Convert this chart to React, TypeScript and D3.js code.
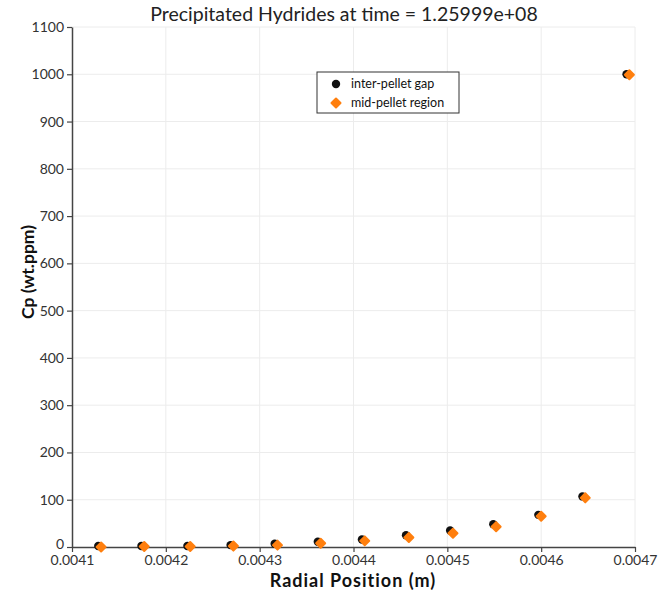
import React, { useEffect, useRef } from "react";
import * as d3 from "d3";

// radial positions (m) of the sampled points
const gapX = [0.004128, 0.004174, 0.004223, 0.004269, 0.004316, 0.004362, 0.004409, 0.004456, 0.004503, 0.004549, 0.004597, 0.004644, 0.004691];
const gapY = [2, 2, 2, 4, 7, 11, 16, 25, 35, 48, 68, 107, 1000];
const midX = [0.004131, 0.004177, 0.004226, 0.004272, 0.004319, 0.004365, 0.004412, 0.004459, 0.004506, 0.004552, 0.0046, 0.004647, 0.004694];
const midY = [0, 1, 1, 2, 4, 8, 13, 20, 29, 43, 65, 104, 999];
const xTicks = [0.0041, 0.0042, 0.0043, 0.0044, 0.0045, 0.0046, 0.0047];
const yTicks = [0, 100, 200, 300, 400, 500, 600, 700, 800, 900, 1000, 1100];
const seriesNames = ["inter-pellet gap", "mid-pellet region"];

const App = () => {
  const svgRef = useRef<SVGSVGElement>(null);

  useEffect(() => {
    const width = 669;
    const height = 590;
    const margin = { top: 27, right: 34, bottom: 43, left: 72 };
    const font = "Lato, 'DejaVu Sans', sans-serif";

    const svg = d3.select(svgRef.current)
      .attr("width", width)
      .attr("height", height)
      .style("background", "#fff");
    svg.selectAll("*").remove();

    const x = d3.scaleLinear()
      .domain([0.0041, 0.0047])
      .range([margin.left, width - margin.right]);
    const y = d3.scaleLinear()
      .domain([0, 1100])
      .range([height - margin.bottom, margin.top]);

    // grid
    svg.append("g")
      .selectAll("line")
      .data(xTicks.slice(1))
      .join("line")
      .attr("x1", (d) => x(d)).attr("x2", (d) => x(d))
      .attr("y1", y(1100)).attr("y2", y(0))
      .attr("stroke", "#ececec");
    svg.append("g")
      .selectAll("line")
      .data(yTicks.slice(1))
      .join("line")
      .attr("x1", x(0.0041)).attr("x2", x(0.0047))
      .attr("y1", (d) => y(d)).attr("y2", (d) => y(d))
      .attr("stroke", "#ececec");

    const xAxis = d3.axisBottom(x).tickValues(xTicks).tickFormat(d3.format(".4f")).tickSize(5).tickSizeOuter(0);
    const yAxis = d3.axisLeft(y).tickValues(yTicks).tickFormat(d3.format("d")).tickSize(5).tickSizeOuter(0);

    const gx = svg.append("g")
      .attr("transform", `translate(0,${y(0)})`)
      .call(xAxis);
    const gy = svg.append("g")
      .attr("transform", `translate(${x(0.0041)},0)`)
      .call(yAxis);
    [gx, gy].forEach((g) => {
      g.select(".domain").attr("stroke", "#444").attr("stroke-width", 1.5);
      g.selectAll(".tick line").attr("stroke", "#444").attr("stroke-width", 1.2);
      g.selectAll(".tick text")
        .attr("fill", "#333")
        .style("font-family", font)
        .style("font-size", "14px");
    });
    gx.selectAll(".tick text").attr("y", 8.5);
    gy.selectAll(".tick text").filter((d) => d === 0).attr("dy", "0.1em");

    // points
    svg.append("g")
      .selectAll("circle")
      .data(gapX)
      .join("circle")
      .attr("cx", (d) => x(d))
      .attr("cy", (d, i) => y(gapY[i]))
      .attr("r", 4.2)
      .attr("fill", "#111");
    const diamond = d3.symbol().type(d3.symbolDiamond2).size(52);
    svg.append("g")
      .selectAll("path")
      .data(midX)
      .join("path")
      .attr("transform", (d, i) => `translate(${x(d)},${y(midY[i])})`)
      .attr("d", diamond)
      .attr("fill", "#ff7f0e")
      .attr("stroke", "#ff7f0e")
      .attr("stroke-width", 2)
      .attr("stroke-linejoin", "round");

    // legend
    const lg = svg.append("g").attr("transform", "translate(317,72)");
    lg.append("rect")
      .attr("width", 142).attr("height", 41)
      .attr("fill", "#fff").attr("stroke", "#333").attr("stroke-width", 1);
    lg.append("circle").attr("cx", 19).attr("cy", 12).attr("r", 4.2).attr("fill", "#111");
    lg.append("path")
      .attr("transform", "translate(19,31)")
      .attr("d", diamond)
      .attr("fill", "#ff7f0e").attr("stroke", "#ff7f0e").attr("stroke-width", 2)
      .attr("stroke-linejoin", "round");
    lg.selectAll("text")
      .data(seriesNames)
      .join("text")
      .attr("x", 34)
      .attr("y", (d, i) => 12 + i * 19)
      .attr("dy", "0.35em")
      .attr("fill", "#111")
      .style("font-family", font)
      .style("font-size", "12.5px")
      .text((d) => d);

    // titles
    svg.append("text")
      .attr("x", 344).attr("y", 21)
      .attr("text-anchor", "middle")
      .attr("fill", "#222")
      .style("font-family", font)
      .style("font-size", "19.5px")
      .text("Precipitated Hydrides at time = 1.25999e+08");
    svg.append("text")
      .attr("x", 353).attr("y", 587)
      .attr("text-anchor", "middle")
      .attr("fill", "#111")
      .style("font-family", font)
      .style("font-weight", "bold")
      .style("font-size", "18px")
      .style("letter-spacing", "1px")
      .text("Radial Position (m)");
    svg.append("text")
      .attr("transform", "translate(34,272) rotate(-90)")
      .attr("text-anchor", "middle")
      .attr("fill", "#111")
      .style("font-family", font)
      .style("font-weight", "bold")
      .style("font-size", "17.5px")
      .text("Cp (wt.ppm)");
  }, []);

  return (
    <div style={{ position: "absolute", left: 0, top: 0 }}>
      <svg ref={svgRef} style={{ display: "block" }} />
    </div>
  );
};

export default App;
